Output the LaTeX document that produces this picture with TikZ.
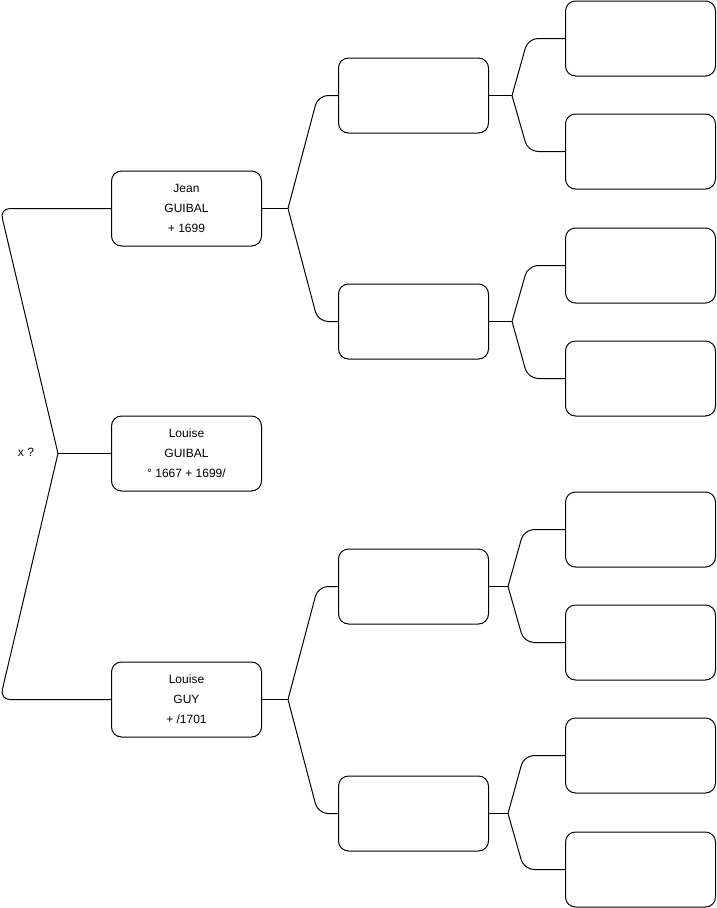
\documentclass[tikz,border=0pt]{standalone}
\usepackage{fontspec}
\setmainfont{Liberation Sans}
\usetikzlibrary{calc}
\tikzset{
  person/.style={draw=black, line width=1pt, rounded corners=10pt, minimum width=150pt, minimum height=75pt, inner sep=0pt, align=center, font=\fontsize{12}{20}\selectfont},
  link/.style={draw=black, line width=1pt, rounded corners=10pt},
  lbl/.style={font=\fontsize{12}{14}\selectfont, inner sep=0pt}
}
\begin{document}
\begin{tikzpicture}[x=1pt,y=-1pt]
\useasboundingbox (0,0) rectangle (716,908);
% column 1
\node[person] (j) at (186.5,208.5) {Jean\\GUIBAL\\+ 1699};
\node[person] (l) at (186.5,453.5) {Louise\\GUIBAL\\° 1667 + 1699/};
\node[person] (g) at (186.5,699.5) {Louise\\GUY\\+ /1701};
% column 2
\node[person] (p1) at (413.5,95.5) {};
\node[person] (p2) at (413.5,321.5) {};
\node[person] (p3) at (413.5,586.5) {};
\node[person] (p4) at (413.5,813.5) {};
% column 3
\node[person] (q1) at (640.5,38.5) {};
\node[person] (q2) at (640.5,151.5) {};
\node[person] (q3) at (640.5,265.5) {};
\node[person] (q4) at (640.5,378.5) {};
\node[person] (q5) at (640.5,529.5) {};
\node[person] (q6) at (640.5,642.5) {};
\node[person] (q7) at (640.5,755.5) {};
\node[person] (q8) at (640.5,869.5) {};
% label
\node[lbl] (x) at (26,452) {x ?};
% fork points
\coordinate (f0) at (58,453.5);
\coordinate (f1) at (288,208.5);
\coordinate (f2) at (288,699.5);
\coordinate (f3) at (512,95.5);
\coordinate (f4) at (512,321.5);
\coordinate (f5) at (508,586.5);
\coordinate (f6) at (508,813.5);
% left bracket
\draw[link] (f0) -- (0,208.5) -- (j.west);
\draw[link] (f0) -- (0,699.5) -- (g.west);
\draw[link] (f0) -- (l.west);
% column 1 to 2
\draw[link] (j.east) -- (f1);
\draw[link] (f1) -- ($(p1.west)+(-20,0)$) -- (p1.west);
\draw[link] (f1) -- ($(p2.west)+(-20,0)$) -- (p2.west);
\draw[link] (g.east) -- (f2);
\draw[link] (f2) -- ($(p3.west)+(-20,0)$) -- (p3.west);
\draw[link] (f2) -- ($(p4.west)+(-20,0)$) -- (p4.west);
% column 2 to 3
\draw[link] (p1.east) -- (f3);
\draw[link] (f3) -- ($(q1.west)+(-37,0)$) -- (q1.west);
\draw[link] (f3) -- ($(q2.west)+(-37,0)$) -- (q2.west);
\draw[link] (p2.east) -- (f4);
\draw[link] (f4) -- ($(q3.west)+(-37,0)$) -- (q3.west);
\draw[link] (f4) -- ($(q4.west)+(-37,0)$) -- (q4.west);
\draw[link] (p3.east) -- (f5);
\draw[link] (f5) -- ($(q5.west)+(-41,0)$) -- (q5.west);
\draw[link] (f5) -- ($(q6.west)+(-41,0)$) -- (q6.west);
\draw[link] (p4.east) -- (f6);
\draw[link] (f6) -- ($(q7.west)+(-41,0)$) -- (q7.west);
\draw[link] (f6) -- ($(q8.west)+(-41,0)$) -- (q8.west);
\end{tikzpicture}
\end{document}
